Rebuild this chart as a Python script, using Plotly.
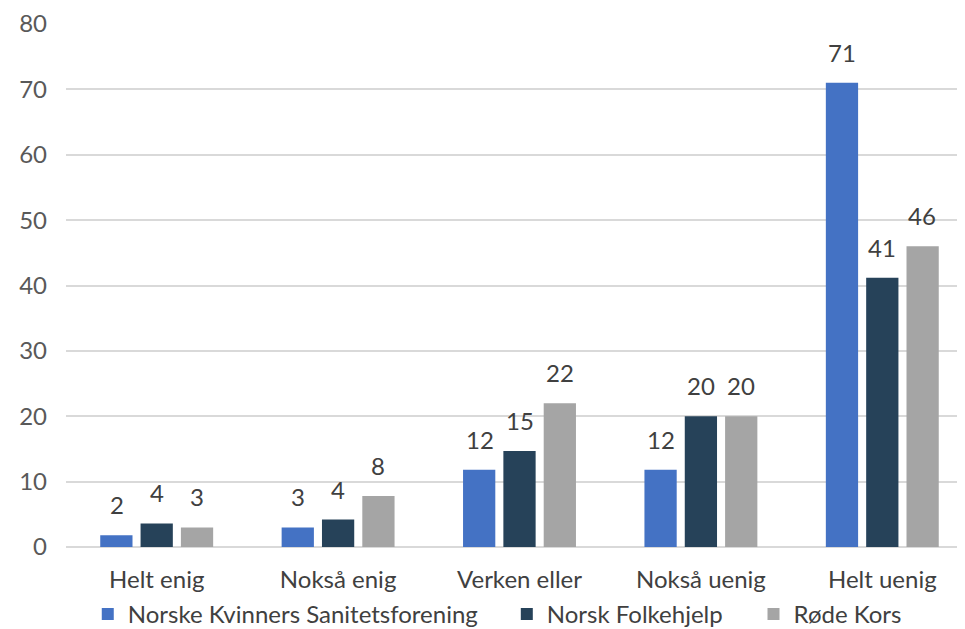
import plotly.graph_objects as go

categories = ["Helt enig", "Nokså enig", "Verken eller", "Nokså uenig", "Helt uenig"]
series_names = ["Norske Kvinners Sanitetsforening", "Norsk Folkehjelp", "Røde Kors"]
nks = [1.8, 3.0, 11.8, 11.8, 71.0]
nfh = [3.6, 4.2, 14.7, 20.0, 41.2]
rk = [3.0, 7.8, 22.0, 20.0, 46.0]
colors = ["#4472C4", "#264259", "#A5A5A5"]

FONT = "Lato, Open Sans, sans-serif"
FS = 24

legend_names = ["legend", "legend2", "legend3"]
legend_x = [0.024, 0.486, 0.758]
slot_px = 40  # pixel offset between bars in a group

fig = go.Figure()
annotations = []
for i, (name, vals, col, lg) in enumerate(zip(series_names, [nks, nfh, rk], colors, legend_names)):
    fig.add_trace(go.Bar(
        x=categories, y=vals, name=name, marker_color=col,
        marker_line_width=0, legend=lg,
    ))
    for c, v in zip(categories, vals):
        annotations.append(dict(
            x=c, y=v, xref="x", yref="y", text=f"{v:.0f}", showarrow=False,
            xshift=(i - 1) * slot_px, yshift=14, yanchor="bottom",
            font=dict(size=FS, color="#404040", family=FONT),
        ))

layout_legends = {}
for lg, lx in zip(legend_names, legend_x):
    layout_legends[lg] = dict(orientation="h", x=lx, xanchor="left", y=-0.13, yanchor="middle",
                              font=dict(size=FS, color="#404040", family=FONT),
                              itemwidth=30, bgcolor="rgba(0,0,0,0)")

fig.update_layout(
    width=965, height=629,
    margin=dict(l=58, r=0, t=7, b=80),
    paper_bgcolor="white", plot_bgcolor="white",
    barmode="group", bargap=0.333, bargroupgap=0.2,
    font=dict(family=FONT, size=FS, color="#595959"),
    showlegend=True,
    annotations=annotations,
    **layout_legends,
)
fig.update_xaxes(showline=False, showgrid=False, ticks="", ticklabelstandoff=16,
                 tickfont=dict(size=FS, color="#404040", family=FONT))
fig.update_yaxes(range=[0, 80], dtick=10, showgrid=True, gridcolor="#D9D9D9", gridwidth=2,
                 zeroline=True, zerolinecolor="#D9D9D9", zerolinewidth=2,
                 ticks="", ticklabelstandoff=18, ticklabeloverflow="allow",
                 tickfont=dict(size=FS, color="#595959", family=FONT))

fig.write_html("out.html")
